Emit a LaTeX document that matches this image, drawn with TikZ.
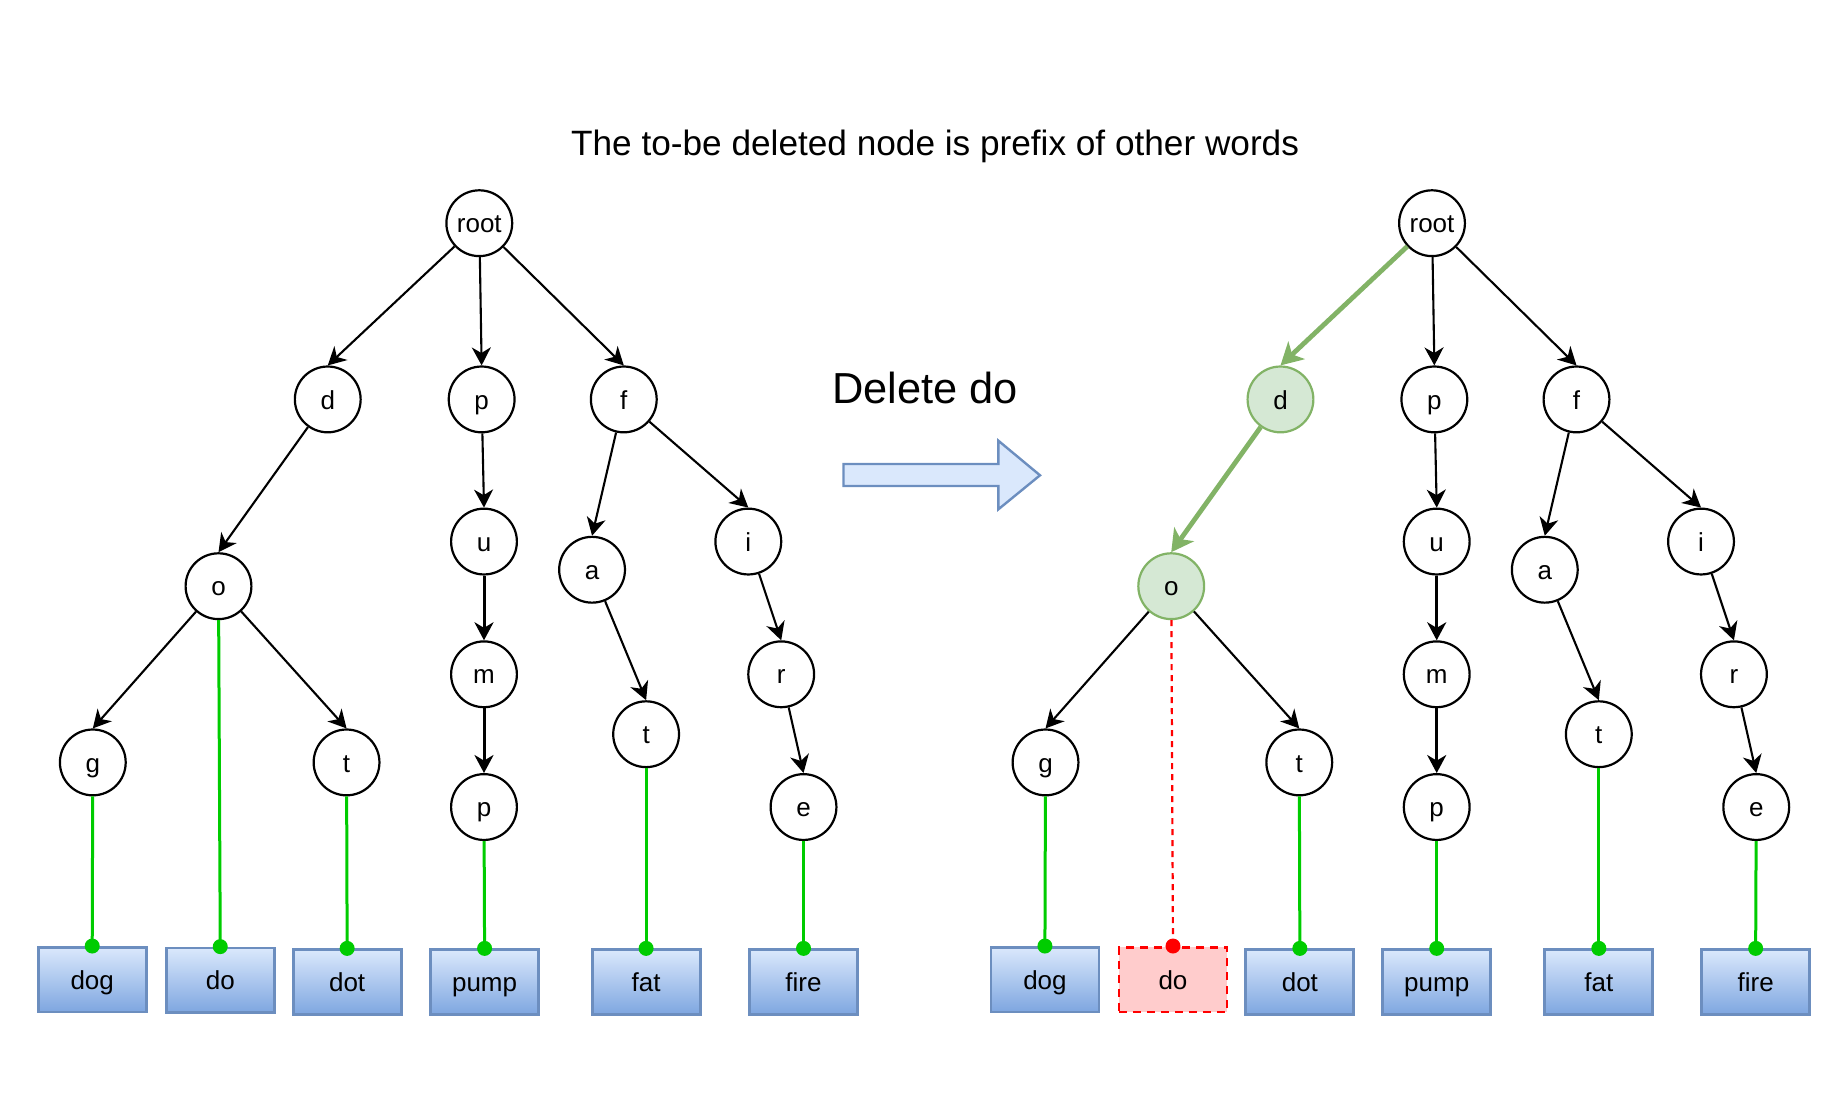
\documentclass[tikz,border=0pt]{standalone}
\usepackage{fontspec}
\setmainfont{Liberation Sans}
\usetikzlibrary{arrows.meta}
\definecolor{gfill}{HTML}{D5E8D4}
\definecolor{gdraw}{HTML}{82B366}
\definecolor{leafc}{HTML}{00CC00}
\definecolor{btop}{HTML}{DAE8FC}
\definecolor{bbot}{HTML}{7EA6E0}
\definecolor{bdraw}{HTML}{6C8EBF}
\definecolor{rfill}{HTML}{FFCCCC}
\definecolor{rdraw}{HTML}{FF0000}
\begin{document}
\begin{tikzpicture}[x=0.58737pt,y=-0.58737pt,
 font=\fontsize{13pt}{15pt}\selectfont,
 tn/.style={circle,draw,line width=1.1pt,fill=white,minimum size=32.9pt,inner sep=0pt,text height=12.6pt,text depth=3pt},
 hn/.style={tn,fill=gfill,draw=gdraw},
 wbox/.style={rectangle,draw=bdraw,line width=1.4pt,top color=btop,bottom color=bbot,minimum width=54pt,minimum height=32.3pt,inner sep=0pt,text height=12.6pt,text depth=3pt},
 rbox/.style={rectangle,draw=rdraw,fill=rfill,dashed,dash pattern=on 4pt off 3pt,line width=1.4pt,minimum width=54pt,minimum height=32.3pt,inner sep=0pt,text height=12.6pt,text depth=3pt},
 treeedge/.style={line width=1.05pt,-{Stealth[length=9pt,width=9.5pt,inset=2.8pt]}},
 boldedge/.style={treeedge,line width=1.5pt},
 hedge/.style={draw=gdraw,line width=2.4pt,-{Stealth[length=11pt,width=12pt,inset=3pt]}},
 leafln/.style={draw=leafc,line width=1.5pt},
 leafdot/.style={circle,fill=leafc,inner sep=0pt,minimum size=7.5pt},
 reddot/.style={circle,fill=rdraw,inner sep=0pt,minimum size=7.5pt},
 redln/.style={draw=rdraw,line width=1.1pt,dash pattern=on 3pt off 2.5pt}
]
\useasboundingbox (0,0) rectangle (1568,929.6);

% title and middle
\node[font=\fontsize{17.6pt}{20pt}\selectfont,anchor=base] (title) at (796,132) {The to-be deleted node is prefix of other words};
\node[font=\fontsize{21.7pt}{25pt}\selectfont,anchor=base,inner sep=0pt] (deltext) at (787.5,343.3) {Delete do};
\draw[draw=bdraw,fill=btop,line width=1.2pt,line join=miter]
  (718,395) -- (849.8,395) -- (849.8,375.1) -- (885.3,404.6) -- (849.8,433.6) -- (849.8,413.7) -- (718,413.7) -- cycle;

% ---------- left tree ----------
\node[tn] (Lroot) at (408,190) {root};
\node[tn] (Ld) at (279,340) {d};
\node[tn] (Lp) at (410,340) {p};
\node[tn] (Lf) at (531,340) {f};
\node[tn] (Lo) at (186,499) {o};
\node[tn] (Lu) at (412,461) {u};
\node[tn] (La) at (504,485) {a};
\node[tn] (Li) at (637,461) {i};
\node[tn] (Lg) at (79,649) {g};
\node[tn] (Lt) at (295,649) {t};
\node[tn] (Lm) at (412,574) {m};
\node[tn] (Lt2) at (550,625) {t};
\node[tn] (Lr) at (665,574) {r};
\node[tn] (Lp2) at (412,687) {p};
\node[tn] (Le) at (684,687) {e};

\node[wbox] (Ldog) at (78.5,834) {dog};
\node[wbox] (Ldo) at (187.5,834.5) {do};
\node[wbox] (Ldot) at (295.5,836) {dot};
\node[wbox] (Lpump) at (412.5,836) {pump};
\node[wbox] (Lfat) at (550,836) {fat};
\node[wbox] (Lfire) at (684,836) {fire};

\draw[treeedge] (Lroot) -- (Ld.north);
\draw[treeedge] (Lroot) -- (Lp.north);
\draw[treeedge] (Lroot) -- (Lf.north);
\draw[treeedge] (Ld) -- (Lo.north);
\draw[treeedge] (Lo) -- (Lg.north);
\draw[treeedge] (Lo) -- (Lt.north);
\draw[treeedge] (Lp) -- (Lu.north);
\draw[boldedge] (Lu) -- (Lm.north);
\draw[boldedge] (Lm) -- (Lp2.north);
\draw[treeedge] (Lf) -- (La.north);
\draw[treeedge] (Lf) -- (Li.north);
\draw[treeedge] (La) -- (Lt2.north);
\draw[treeedge] (Li) -- (Lr.north);
\draw[treeedge] (Lr) -- (Le.north);

\node[leafdot] (Ldogd) at (Ldog.north) {};
\node[leafdot] (Ldod) at (Ldo.north) {};
\node[leafdot] (Ldotd) at (Ldot.north) {};
\node[leafdot] (Lpumpd) at (Lpump.north) {};
\node[leafdot] (Lfatd) at (Lfat.north) {};
\node[leafdot] (Lfired) at (Lfire.north) {};
\draw[leafln] (Lg) -- (Ldogd.center);
\draw[leafln] (Lo) -- (Ldod.center);
\draw[leafln] (Lt) -- (Ldotd.center);
\draw[leafln] (Lp2) -- (Lpumpd.center);
\draw[leafln] (Lt2) -- (Lfatd.center);
\draw[leafln] (Le) -- (Lfired.center);

% ---------- right tree ----------
\node[tn] (Rroot) at (1219,190) {root};
\node[hn] (Rd) at (1090,340) {d};
\node[tn] (Rp) at (1221,340) {p};
\node[tn] (Rf) at (1342,340) {f};
\node[hn] (Ro) at (997,499) {o};
\node[tn] (Ru) at (1223,461) {u};
\node[tn] (Ra) at (1315,485) {a};
\node[tn] (Ri) at (1448,461) {i};
\node[tn] (Rg) at (890,649) {g};
\node[tn] (Rt) at (1106,649) {t};
\node[tn] (Rm) at (1223,574) {m};
\node[tn] (Rt2) at (1361,625) {t};
\node[tn] (Rr) at (1476,574) {r};
\node[tn] (Rp2) at (1223,687) {p};
\node[tn] (Re) at (1495,687) {e};

\node[wbox] (Rdog) at (889.5,834) {dog};
\node[rbox] (Rdo) at (998.5,834) {do};
\node[wbox] (Rdot) at (1106.5,836) {dot};
\node[wbox] (Rpump) at (1223,836) {pump};
\node[wbox] (Rfat) at (1361,836) {fat};
\node[wbox] (Rfire) at (1494.5,836) {fire};

\draw[hedge] (Rroot) -- (Rd.north);
\draw[treeedge] (Rroot) -- (Rp.north);
\draw[treeedge] (Rroot) -- (Rf.north);
\draw[hedge] (Rd) -- (Ro.north);
\draw[treeedge] (Ro) -- (Rg.north);
\draw[treeedge] (Ro) -- (Rt.north);
\draw[treeedge] (Rp) -- (Ru.north);
\draw[boldedge] (Ru) -- (Rm.north);
\draw[boldedge] (Rm) -- (Rp2.north);
\draw[treeedge] (Rf) -- (Ra.north);
\draw[treeedge] (Rf) -- (Ri.north);
\draw[treeedge] (Ra) -- (Rt2.north);
\draw[treeedge] (Ri) -- (Rr.north);
\draw[treeedge] (Rr) -- (Re.north);

\node[leafdot] (Rdogd) at (Rdog.north) {};
\node[reddot] (Rdod) at (Rdo.north) {};
\node[leafdot] (Rdotd) at (Rdot.north) {};
\node[leafdot] (Rpumpd) at (Rpump.north) {};
\node[leafdot] (Rfatd) at (Rfat.north) {};
\node[leafdot] (Rfired) at (Rfire.north) {};
\draw[leafln] (Rg) -- (Rdogd.center);
\draw[redln] (Ro) -- (Rdod.center);
\draw[leafln] (Rt) -- (Rdotd.center);
\draw[leafln] (Rp2) -- (Rpumpd.center);
\draw[leafln] (Rt2) -- (Rfatd.center);
\draw[leafln] (Re) -- (Rfired.center);
\end{tikzpicture}
\end{document}
